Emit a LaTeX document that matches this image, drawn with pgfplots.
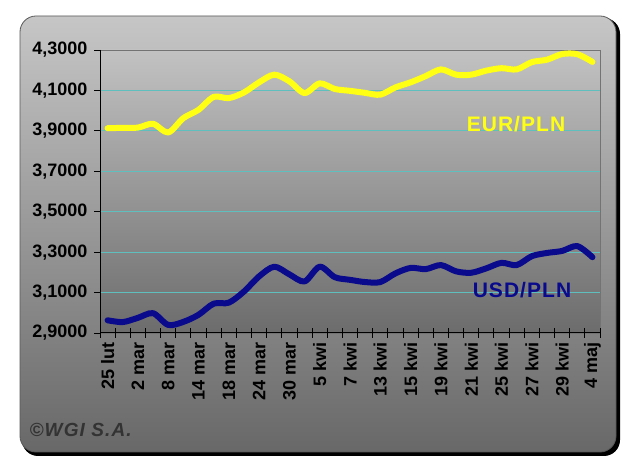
\documentclass[border=0pt]{standalone}
\usepackage{pgfplots}
\pgfplotsset{compat=1.18}
\usepackage{fontspec}
\setmainfont{Liberation Sans}
\definecolor{gridteal}{RGB}{95,190,190}
\definecolor{eurcol}{RGB}{255,255,20}
\definecolor{usdcol}{RGB}{10,10,140}
\definecolor{paneltop}{RGB}{198,198,198}
\definecolor{panelbot}{RGB}{104,104,104}
\definecolor{plottop}{RGB}{194,194,194}
\definecolor{plotbot}{RGB}{108,108,108}
\begin{document}
\begin{tikzpicture}[x=1pt,y=1pt]
\path[use as bounding box] (0,0) rectangle (640,474);
\fill[white] (0,0) rectangle (640,474);
\fill[black, rounded corners=16pt] (22,18) rectangle (620,456);
\shade[top color=paneltop, bottom color=panelbot, rounded corners=16pt, draw=black!65, line width=0.8pt] (20,22) rectangle (616,458);
\begin{axis}[
  at={(100pt,141pt)}, anchor=south west,
  scale only axis, width=500pt, height=283pt,
  xmin=-0.5, xmax=32.5, ymin=2.9, ymax=4.3,
  axis background/.style={shade, top color=plottop, bottom color=plotbot},
  xtick={-0.5,0.5,...,32.5},
  xticklabels={25 lut,,2 mar,,8 mar,,14 mar,,18 mar,,24 mar,,30 mar,,5 kwi,,7 kwi,,13 kwi,,15 kwi,,19 kwi,,21 kwi,,25 kwi,,27 kwi,,29 kwi,,4 maj,},
  xticklabel style={rotate=90, anchor=east, font=\bfseries\fontsize{18}{18}\selectfont, xshift=-6pt, yshift=-7.6pt},
  ytick={2.9,3.1,3.3,3.5,3.7,3.9,4.1,4.3},
  major tick length=0pt,
  tick style={draw=none},
  ymajorgrids, major grid style={draw=gridteal, line width=0.9pt},
  axis line style={draw=black!55, line width=0.9pt},
  yticklabel style={font=\bfseries\fontsize{18}{18}\selectfont, xshift=-9pt, /pgf/number format/.cd, fixed, fixed zerofill, precision=4, use comma, assume math mode=true},
  clip=false,
]
\addplot[eurcol, line width=6pt, smooth, line join=round, line cap=round] coordinates {
(0,3.913) (1,3.915) (2,3.916) (3,3.935) (4,3.892) (5,3.963) (6,4.004) (7,4.068) (8,4.062) (9,4.090)
(10,4.140) (11,4.178) (12,4.145) (13,4.087) (14,4.135) (15,4.107) (16,4.098) (17,4.088) (18,4.079) (19,4.115)
(20,4.140) (21,4.171) (22,4.204) (23,4.178) (24,4.178) (25,4.198) (26,4.210) (27,4.204) (28,4.240) (29,4.252)
(30,4.280) (31,4.279) (32,4.241)
};
\addplot[usdcol, line width=6pt, smooth, line join=round, line cap=round] coordinates {
(0,2.963) (1,2.954) (2,2.975) (3,2.998) (4,2.940) (5,2.955) (6,2.990) (7,3.045) (8,3.050) (9,3.105)
(10,3.180) (11,3.228) (12,3.190) (13,3.155) (14,3.228) (15,3.176) (16,3.163) (17,3.152) (18,3.152) (19,3.195)
(20,3.222) (21,3.216) (22,3.236) (23,3.205) (24,3.198) (25,3.220) (26,3.247) (27,3.236) (28,3.280) (29,3.296)
(30,3.306) (31,3.330) (32,3.275)
};
\end{axis}
\draw[black, line width=1pt] (100,424) -- (100,141) -- (600,141);
\foreach \i in {0,...,33} {\draw[black, line width=0.9pt] ({100+15.1515*\i},136) -- ({100+15.1515*\i},146);}
\foreach \k in {0,...,7} {\draw[black, line width=0.9pt] (94,{141+40.4286*\k}) -- (100,{141+40.4286*\k});}
\node[font=\bfseries\fontsize{21}{21}\selectfont\addfontfeatures{LetterSpace=5}, text=eurcol] at (516,350) {EUR/PLN};
\node[font=\bfseries\fontsize{21}{21}\selectfont\addfontfeatures{LetterSpace=5}, text=usdcol] at (522,184) {USD/PLN};
\node[font=\bfseries\itshape\fontsize{19}{19}\selectfont\addfontfeatures{LetterSpace=6}, text=black!80, anchor=west] at (26,44) {©WGI S.A.};
\end{tikzpicture}
\end{document}
